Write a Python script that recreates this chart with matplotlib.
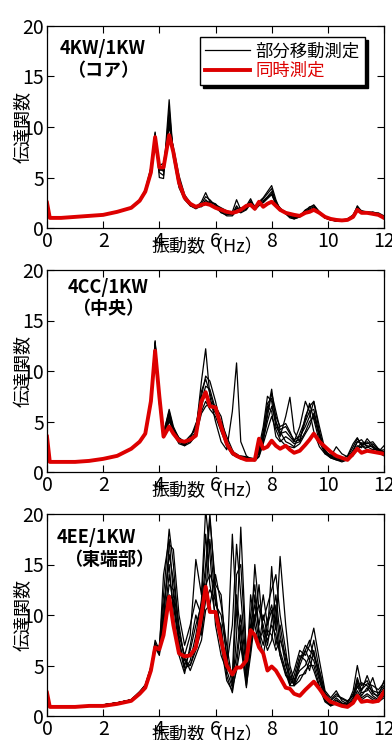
import matplotlib
matplotlib.use("Agg")
import matplotlib.pyplot as plt
import numpy as np

plt.rcParams['font.family'] = ['Liberation Sans Narrow', 'DejaVu Sans Condensed',
                               'Noto Sans CJK JP', 'DejaVu Sans']

freq = [0, 0.1, 0.5, 1, 1.5, 2, 2.5, 3, 3.3, 3.5,
        3.7, 3.85, 4.0, 4.15, 4.35, 4.5, 4.7, 4.9, 5.1, 5.3,
        5.5, 5.65, 5.8, 6.0, 6.2, 6.4, 6.6, 6.75, 6.9, 7.1,
        7.25, 7.4, 7.55, 7.7, 7.85, 8.0, 8.15, 8.3, 8.5, 8.65,
        8.8, 9.0, 9.2, 9.35, 9.5, 9.7, 9.9, 10.1, 10.3, 10.5,
        10.7, 10.9, 11.05, 11.2, 11.4, 11.6, 11.8, 12.0]

# Panel 1: 4KW/1KW (core)
core_sim = [2.5, 1.0, 1.0, 1.1, 1.2, 1.3, 1.6, 2.0, 2.7, 3.6,
            5.5, 9.0, 6.0, 6.0, 9.2, 7.5, 4.5, 3.0, 2.4, 2.1,
            2.3, 2.4, 2.3, 2.0, 1.8, 1.6, 1.5, 1.6, 1.8, 2.2,
            2.3, 1.9, 2.6, 2.1, 2.4, 2.6, 2.2, 1.8, 1.5, 1.4,
            1.3, 1.2, 1.5, 1.6, 1.8, 1.5, 1.1, 0.9, 0.8, 0.75,
            0.8, 1.1, 1.8, 1.5, 1.5, 1.4, 1.3, 1.0]
core_b1 = [2.7, 1.0, 1.0, 1.1, 1.2, 1.3, 1.6, 2.0, 2.7, 3.7,
           5.8, 9.4, 5.5, 5.2, 12.7, 7.0, 4.0, 2.8, 2.2, 2.0,
           2.6, 3.5, 2.6, 2.4, 1.8, 1.5, 1.6, 2.8, 1.8, 2.2,
           2.9, 2.0, 2.6, 3.0, 3.6, 4.2, 2.8, 1.8, 1.5, 1.2,
           1.0, 1.2, 1.8, 2.0, 2.3, 1.6, 1.1, 0.8, 0.7, 0.7,
           0.8, 1.2, 2.2, 1.6, 1.6, 1.5, 1.4, 1.1]
core_b2 = [2.4, 1.0, 1.0, 1.1, 1.2, 1.3, 1.6, 2.0, 2.8, 3.8,
           6.0, 9.2, 5.9, 5.6, 11.0, 7.5, 4.6, 3.0, 2.2, 1.9,
           2.2, 2.8, 2.4, 2.1, 1.5, 1.3, 1.4, 2.2, 1.6, 1.9,
           2.6, 2.1, 2.4, 2.9, 3.4, 3.9, 2.5, 2.0, 1.4, 1.1,
           0.9, 1.1, 1.6, 1.9, 2.1, 1.5, 1.0, 0.8, 0.7, 0.7,
           0.9, 1.3, 2.0, 1.7, 1.6, 1.5, 1.5, 1.2]
core_b3 = [2.6, 1.0, 1.0, 1.1, 1.2, 1.3, 1.6, 2.0, 2.7, 3.6,
           5.6, 8.7, 6.2, 6.4, 10.0, 8.0, 5.2, 3.3, 2.5, 2.1,
           2.1, 2.5, 2.6, 2.3, 2.0, 1.7, 1.5, 1.9, 2.0, 2.1,
           2.5, 2.2, 2.3, 2.5, 2.9, 3.3, 2.4, 1.9, 1.6, 1.3,
           1.1, 1.3, 1.6, 1.8, 1.9, 1.4, 1.0, 0.8, 0.7, 0.8,
           0.9, 1.2, 1.9, 1.6, 1.5, 1.4, 1.4, 1.1]
core_b4 = [2.5, 1.0, 1.0, 1.1, 1.2, 1.3, 1.6, 2.0, 2.6, 3.5,
           5.4, 9.5, 5.0, 4.9, 11.8, 7.2, 4.3, 2.9, 2.3, 2.0,
           2.4, 3.1, 2.8, 2.2, 1.7, 1.4, 1.3, 2.0, 1.7, 2.0,
           2.7, 1.9, 2.5, 2.7, 3.1, 3.6, 2.6, 1.9, 1.4, 1.0,
           0.9, 1.1, 1.7, 2.1, 2.2, 1.6, 1.1, 0.9, 0.7, 0.7,
           0.8, 1.2, 2.1, 1.7, 1.5, 1.6, 1.4, 1.1]
core_b5 = [2.5, 1.0, 1.0, 1.1, 1.2, 1.3, 1.6, 2.0, 2.7, 3.7,
           5.7, 9.1, 5.7, 5.8, 10.5, 7.8, 4.8, 3.1, 2.3, 2.1,
           2.2, 2.6, 2.5, 2.0, 1.6, 1.2, 1.2, 1.7, 1.5, 1.8,
           2.4, 1.8, 2.2, 2.6, 3.0, 3.4, 2.3, 1.7, 1.5, 1.2,
           1.0, 1.2, 1.5, 1.7, 2.0, 1.5, 1.0, 0.8, 0.7, 0.7,
           0.8, 1.1, 2.0, 1.5, 1.5, 1.5, 1.3, 1.0]

# Panel 2: 4CC/1KW (center)
center_sim = [3.5, 1.0, 1.0, 1.0, 1.1, 1.3, 1.6, 2.3, 3.0, 3.8,
              7.0, 12.0, 7.5, 3.5, 4.5, 3.8, 3.1, 3.0, 3.2, 3.6,
              7.0, 7.9, 6.5, 6.4, 4.5, 2.8, 1.9, 1.6, 1.4, 1.2,
              1.2, 1.2, 3.3, 2.3, 2.5, 3.1, 2.6, 2.3, 2.6, 2.2,
              1.9, 2.1, 2.7, 3.2, 3.8, 3.0, 2.5, 2.0, 1.6, 1.4,
              1.2, 1.8, 2.3, 1.9, 2.1, 2.0, 1.9, 1.8]
center_b1 = [3.5, 1.0, 1.0, 1.0, 1.1, 1.3, 1.6, 2.3, 3.0, 3.8,
             7.0, 13.0, 7.0, 3.6, 5.5, 4.0, 3.0, 2.7, 3.2, 4.0,
             9.0, 12.2, 7.5, 5.0, 3.0, 2.2, 6.0, 10.8, 3.0, 1.6,
             1.3, 1.2, 1.6, 3.0, 6.0, 8.2, 5.0, 3.5, 5.5, 7.4,
             4.0, 3.0, 5.5, 6.5, 7.0, 4.0, 2.0, 1.5, 2.5, 1.8,
             1.5, 2.5, 3.3, 2.7, 3.0, 2.4, 2.0, 2.6]
center_b2 = [3.4, 1.0, 1.0, 1.0, 1.1, 1.3, 1.6, 2.3, 2.9, 3.7,
             6.8, 12.6, 7.4, 3.8, 6.2, 4.5, 3.3, 2.9, 3.4, 4.5,
             7.5, 9.5, 9.0, 7.0, 4.5, 2.5, 1.8, 1.6, 1.5, 1.4,
             1.3, 1.3, 2.5, 4.5, 7.5, 7.0, 4.5, 3.8, 4.0, 3.5,
             3.0, 4.5, 7.0, 6.0, 4.0, 2.5, 1.8, 1.6, 1.4, 1.3,
             1.6, 2.8, 3.4, 2.6, 2.4, 2.8, 2.2, 1.8]
center_b3 = [3.6, 1.0, 1.0, 1.0, 1.1, 1.3, 1.6, 2.3, 3.0, 3.8,
             7.2, 12.8, 6.8, 3.4, 5.0, 4.2, 3.1, 2.8, 3.0, 3.8,
             6.5, 8.0, 7.0, 6.5, 5.5, 3.0, 2.0, 1.5, 1.6, 1.5,
             1.3, 1.2, 2.0, 3.5, 5.5, 7.8, 6.0, 4.2, 4.5, 3.8,
             3.2, 3.5, 4.5, 5.5, 7.0, 4.5, 2.2, 1.5, 1.3, 1.2,
             1.4, 2.0, 3.0, 3.2, 2.5, 2.2, 2.3, 1.9]
center_b4 = [3.5, 1.0, 1.0, 1.0, 1.1, 1.3, 1.6, 2.3, 3.0, 3.8,
             7.0, 12.4, 7.2, 3.7, 5.8, 3.8, 2.8, 2.6, 3.3, 4.8,
             6.0, 7.0, 6.2, 5.5, 4.0, 2.6, 1.7, 1.5, 1.4, 1.3,
             1.2, 1.3, 2.2, 4.0, 6.5, 6.0, 3.5, 3.0, 3.5, 3.2,
             2.8, 3.0, 4.0, 5.0, 5.5, 3.5, 2.0, 1.7, 1.5, 1.3,
             1.3, 1.8, 2.6, 2.4, 3.3, 2.6, 2.1, 2.2]
center_b5 = [3.5, 1.0, 1.0, 1.0, 1.1, 1.3, 1.6, 2.3, 3.0, 3.8,
             7.1, 12.9, 7.6, 3.9, 6.0, 4.3, 3.4, 3.0, 3.6, 4.2,
             8.0, 9.2, 7.8, 6.0, 4.6, 2.8, 2.0, 1.8, 1.5, 1.4,
             1.4, 1.3, 1.8, 3.2, 5.0, 6.5, 5.0, 4.0, 3.0, 2.8,
             2.5, 3.8, 5.2, 6.8, 5.2, 3.0, 1.8, 1.4, 1.2, 1.1,
             1.2, 1.6, 2.4, 2.9, 2.8, 3.0, 2.3, 2.0]
center_b6 = [3.4, 1.0, 1.0, 1.0, 1.1, 1.3, 1.6, 2.3, 2.9, 3.8,
             6.9, 12.5, 7.3, 3.5, 5.2, 4.0, 3.0, 2.6, 2.9, 3.6,
             5.8, 6.5, 6.8, 5.8, 5.0, 3.5, 2.2, 1.5, 1.3, 1.3,
             1.2, 1.1, 1.5, 2.8, 4.2, 5.5, 4.2, 3.2, 2.6, 2.5,
             2.4, 2.8, 3.8, 4.5, 5.8, 3.8, 2.0, 1.4, 1.2, 1.0,
             1.2, 1.7, 2.2, 2.6, 2.2, 2.0, 1.9, 1.6]
center_b7 = [3.5, 1.0, 1.0, 1.0, 1.1, 1.3, 1.6, 2.3, 3.0, 3.8,
             7.0, 12.7, 7.1, 3.6, 5.6, 4.1, 3.2, 2.8, 3.1, 3.9,
             7.0, 8.5, 8.2, 6.2, 4.8, 2.7, 1.9, 1.6, 1.5, 1.3,
             1.3, 1.2, 2.0, 3.8, 6.8, 7.3, 5.5, 4.5, 4.8, 4.0,
             3.0, 3.2, 5.0, 6.0, 6.2, 3.5, 1.9, 1.5, 1.3, 1.2,
             1.3, 2.2, 3.0, 2.8, 2.6, 2.5, 2.1, 1.9]

# Panel 3: 4EE/1KW (east end)
east_sim = [2.3, 0.9, 0.9, 0.9, 1.0, 1.0, 1.2, 1.5, 2.2, 2.8,
            4.5, 6.8, 6.6, 8.0, 11.8, 9.0, 6.2, 5.9, 6.0, 6.8,
            10.0, 12.8, 10.3, 10.3, 7.5, 5.0, 4.1, 4.8, 4.8, 5.5,
            8.5, 8.0, 6.8, 6.2, 4.5, 4.9, 4.5, 3.8, 2.8, 2.7,
            2.2, 2.0, 2.6, 3.0, 3.4, 2.7, 1.9, 1.4, 1.2, 1.0,
            0.9, 1.3, 2.0, 1.4, 1.5, 1.4, 1.5, 2.4]
east_b1 = [2.4, 0.9, 0.9, 0.9, 1.0, 1.1, 1.3, 1.6, 2.4, 3.0,
           4.8, 6.5, 7.0, 12.0, 18.5, 15.0, 8.0, 6.0, 8.0, 15.5,
           12.0, 20.5, 16.0, 9.0, 6.0, 4.5, 18.0, 10.0, 7.0, 4.0,
           12.0, 9.0, 7.0, 10.0, 8.0, 14.8, 9.0, 6.0, 4.0, 3.5,
           4.5, 6.5, 6.0, 7.0, 8.7, 5.5, 2.5, 1.8, 2.5, 1.5,
           1.2, 2.5, 5.0, 3.0, 3.5, 2.2, 2.0, 3.5]
east_b2 = [2.3, 0.9, 0.9, 0.9, 1.0, 1.1, 1.3, 1.6, 2.3, 3.0,
           4.6, 7.5, 6.5, 14.0, 17.5, 12.0, 7.5, 5.0, 6.5, 9.0,
           11.0, 15.0, 20.0, 12.0, 8.0, 5.0, 9.0, 17.0, 12.0, 5.0,
           10.0, 13.0, 8.5, 7.0, 9.5, 11.0, 8.5, 15.8, 9.0, 5.0,
           3.5, 5.5, 7.0, 6.5, 6.0, 4.0, 2.0, 1.5, 2.0, 1.8,
           1.5, 2.0, 3.8, 2.5, 4.0, 2.5, 2.3, 3.0]
east_b3 = [2.4, 0.9, 0.9, 0.9, 1.0, 1.1, 1.3, 1.6, 2.3, 2.9,
           4.5, 7.0, 6.8, 10.0, 16.0, 13.5, 9.0, 5.5, 5.0, 7.0,
           9.5, 13.0, 14.0, 12.5, 7.0, 3.5, 2.5, 8.0, 18.7, 6.0,
           7.5, 15.0, 10.5, 9.0, 7.0, 9.5, 12.0, 8.0, 5.0, 4.0,
           3.0, 5.0, 6.5, 5.5, 7.5, 4.5, 2.2, 1.3, 1.5, 1.2,
           1.0, 1.6, 3.0, 2.0, 2.8, 2.0, 1.6, 2.5]
east_b4 = [2.3, 0.9, 0.9, 0.9, 1.0, 1.1, 1.3, 1.6, 2.4, 3.1,
           4.9, 6.8, 6.0, 9.0, 14.0, 11.0, 7.0, 4.5, 5.5, 8.0,
           11.5, 18.0, 13.0, 10.0, 9.0, 4.0, 2.3, 5.0, 9.0, 3.0,
           6.0, 9.5, 13.0, 8.0, 6.5, 7.5, 11.0, 6.5, 4.5, 3.2,
           3.5, 4.5, 5.0, 6.0, 5.5, 3.5, 1.8, 1.2, 1.8, 1.3,
           1.1, 1.8, 3.3, 2.3, 2.5, 3.8, 2.0, 2.8]
east_b5 = [2.4, 0.9, 0.9, 0.9, 1.0, 1.1, 1.3, 1.6, 2.3, 3.0,
           4.7, 7.2, 6.3, 11.0, 15.0, 10.0, 6.0, 4.2, 7.0, 10.0,
           8.0, 12.0, 17.5, 11.0, 10.0, 6.0, 3.0, 12.0, 8.0, 3.5,
           9.0, 11.0, 9.0, 12.0, 9.0, 10.5, 7.0, 9.0, 5.5, 3.0,
           4.0, 6.0, 5.5, 4.5, 6.5, 3.8, 1.6, 1.0, 1.6, 1.2,
           1.3, 2.2, 2.8, 3.3, 3.0, 2.4, 1.8, 2.2]
east_b6 = [2.3, 0.9, 0.9, 0.9, 1.0, 1.1, 1.3, 1.6, 2.4, 3.0,
           4.6, 6.8, 6.7, 8.5, 13.0, 12.5, 8.5, 5.8, 4.5, 6.0,
           7.5, 10.5, 11.0, 14.0, 11.0, 7.0, 3.5, 6.0, 10.0, 4.5,
           6.5, 12.0, 8.0, 6.0, 8.5, 8.0, 6.5, 7.5, 6.0, 4.5,
           3.0, 3.5, 4.5, 5.0, 5.0, 3.0, 1.5, 1.1, 1.3, 1.0,
           1.0, 1.5, 2.5, 1.8, 2.2, 1.8, 1.5, 2.0]
east_b7 = [2.4, 0.9, 0.9, 0.9, 1.0, 1.1, 1.3, 1.6, 2.3, 3.0,
           4.7, 7.0, 6.2, 9.5, 17.0, 16.5, 10.0, 7.0, 9.0, 11.5,
           10.0, 14.0, 19.5, 13.0, 12.0, 5.5, 4.0, 14.0, 15.0, 6.0,
           8.0, 10.0, 11.0, 9.5, 11.0, 12.5, 14.0, 10.0, 6.5, 3.5,
           3.2, 5.5, 6.5, 7.5, 6.0, 4.5, 2.3, 1.6, 2.2, 1.7,
           1.4, 2.0, 3.5, 2.6, 3.2, 3.0, 2.6, 3.3]
east_b8 = [2.3, 0.9, 0.9, 0.9, 1.0, 1.1, 1.3, 1.6, 2.3, 2.9,
           4.5, 6.6, 6.5, 8.0, 12.0, 11.5, 7.5, 4.8, 5.0, 6.5,
           8.5, 11.5, 12.5, 11.5, 8.5, 4.5, 2.8, 4.5, 7.0, 2.8,
           7.0, 10.0, 7.5, 8.5, 7.5, 9.0, 8.0, 6.0, 4.2, 3.0,
           3.0, 4.0, 4.2, 5.5, 4.5, 2.8, 1.4, 1.0, 1.2, 1.0,
           1.0, 1.4, 2.2, 1.6, 2.0, 1.6, 1.4, 1.8]

panel_titles = ["4KW/1KW", "4CC/1KW", "4EE/1KW"]
panel_subtitles = ["（コア）", "（中央）", "（東端部）"]
legend_labels = ["部分移動測定", "同時測定"]
xlabel = "振動数（Hz）"
ylabel = "伝達関数"
xticks = [0, 2, 4, 6, 8, 10, 12]
yticks = [0, 5, 10, 15, 20]

panels = [
    (core_sim, [core_b1, core_b2, core_b3, core_b4, core_b5]),
    (center_sim, [center_b1, center_b2, center_b3, center_b4, center_b5,
                  center_b6, center_b7]),
    (east_sim, [east_b1, east_b2, east_b3, east_b4, east_b5, east_b6,
                east_b7, east_b8]),
]

W, H = 392, 740
fig = plt.figure(figsize=(W / 100, H / 100), dpi=100)
axes_px = [(26, 228), (270, 472), (514, 716)]
# (title x, title y, subtitle x, subtitle y) in axes fraction
title_pos = [(0.038, 0.89, 0.058, 0.78), (0.062, 0.915, 0.075, 0.81),
             (0.03, 0.885, 0.05, 0.775)]
jp = ['Noto Sans CJK JP', 'DejaVu Sans']
red = '#dd0000'

for i, ((sim, blacks), (top, bot)) in enumerate(zip(panels, axes_px)):
    ax = fig.add_axes([47 / W, 1 - bot / H, (384 - 47) / W, (bot - top) / H])
    for k, b in enumerate(blacks):
        ax.plot(freq, b, color='black', lw=0.9,
                label=legend_labels[0] if k == 0 else None)
    ax.plot(freq, sim, color=red, lw=2.8, label=legend_labels[1])
    ax.set_xlim(0, 12)
    ax.set_ylim(0, 20)
    ax.set_xticks(xticks)
    ax.set_yticks(yticks)
    ax.tick_params(direction='in', top=True, right=True, length=5, width=0.8,
                   labelsize=14, pad=2)
    for sp in ax.spines.values():
        sp.set_linewidth(0.9)
    tx, ty1, sx, ty2 = title_pos[i]
    ax.text(tx, ty1, panel_titles[i], transform=ax.transAxes, fontsize=13,
            fontweight='bold', va='center', ha='left', family=jp)
    ax.text(sx, ty2, panel_subtitles[i], transform=ax.transAxes, fontsize=13,
            fontweight='bold', va='center', ha='left', family=jp)
    ax.text(0.475, -0.05, xlabel, transform=ax.transAxes, fontsize=13,
            va='top', ha='center', family=jp)
    ax.text(-0.07, 0.5, ylabel, transform=ax.transAxes, fontsize=13,
            va='center', ha='center', rotation=90, family=jp)
    if i == 0:
        leg = ax.legend(loc='upper right', bbox_to_anchor=(0.944, 0.945),
                        borderaxespad=0, fancybox=False,
                        shadow={'color': 'black', 'alpha': 1.0}, edgecolor='black',
                        framealpha=1, handlelength=2.6, handletextpad=0.3,
                        borderpad=0.3, labelspacing=0.1,
                        prop={'family': jp, 'size': 12.5})
        leg.get_frame().set_linewidth(1.0)
        leg.get_texts()[1].set_color(red)

fig.savefig('out.png', dpi=100)
